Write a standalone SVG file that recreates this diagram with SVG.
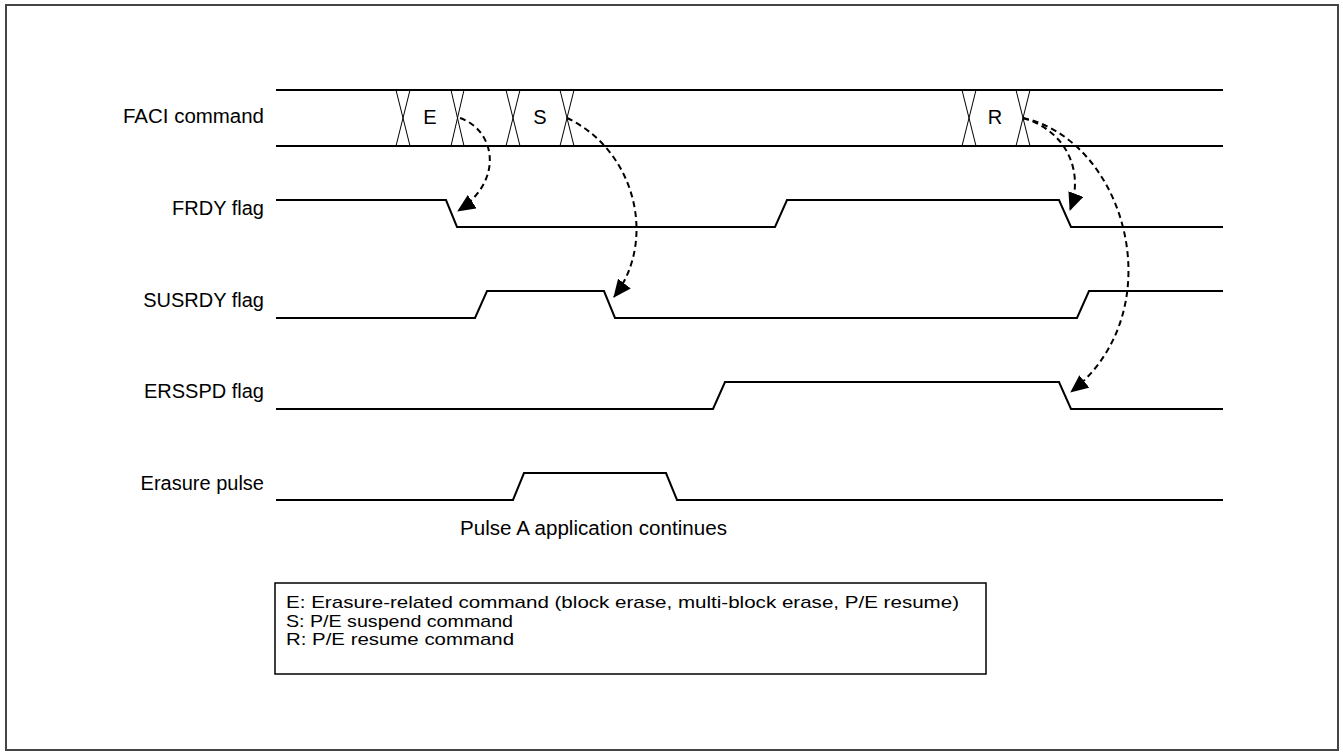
<svg xmlns="http://www.w3.org/2000/svg" width="1343" height="755" viewBox="0 0 1343 755">
<style>
.lbl{font-family:"Liberation Sans",Arial,sans-serif;font-size:20px;fill:#000}
.leg{font-family:"Liberation Sans",Arial,sans-serif;font-size:17px;fill:#000}
.sig{fill:none;stroke:#000;stroke-width:2}
.bus{fill:none;stroke:#000;stroke-width:2}
.x{fill:none;stroke:#000;stroke-width:1}
.dash{fill:none;stroke:#000;stroke-width:2;stroke-dasharray:6,4}
</style>
<defs>
<marker id="ah" markerUnits="userSpaceOnUse" markerWidth="18" markerHeight="16" refX="17" refY="8" orient="auto" viewBox="0 0 18 16">
<path d="M0,0 L18,8 L0,16 z" fill="#000"/>
</marker>
</defs>
<rect x="6" y="5" width="1332" height="745" fill="#fff" stroke="#444" stroke-width="2"/>

<g id="faci">
<text class="lbl" x="264" y="123" text-anchor="end" textLength="141" lengthAdjust="spacingAndGlyphs">FACI command</text>
<line class="bus" x1="276" y1="90" x2="1223" y2="90"/>
<line class="bus" x1="276" y1="146" x2="1223" y2="146"/>
<path class="x" d="M396,90 L410,146 M410,90 L396,146 M451,90 L464,146 M464,90 L451,146 M506,90 L520,146 M520,90 L506,146 M560,90 L574,146 M574,90 L560,146 M962,90 L976,146 M976,90 L962,146 M1016,90 L1030,146 M1030,90 L1016,146"/>
<text class="lbl" x="430" y="124" text-anchor="middle">E</text>
<text class="lbl" x="540" y="124" text-anchor="middle">S</text>
<text class="lbl" x="995" y="124" text-anchor="middle">R</text>
</g>

<g id="frdy">
<text class="lbl" x="264" y="215" text-anchor="end">FRDY flag</text>
<polyline class="sig" points="276,200 446,200 457,227 775,227 787,200 1059,200 1071,227 1223,227"/>
</g>

<g id="susrdy">
<text class="lbl" x="264" y="307" text-anchor="end">SUSRDY flag</text>
<polyline class="sig" points="276,318 475,318 487,291 604,291 615,318 1077,318 1089,291 1223,291"/>
</g>

<g id="ersspd">
<text class="lbl" x="264" y="398" text-anchor="end">ERSSPD flag</text>
<polyline class="sig" points="276,409 713,409 725,382 1059,382 1071,409 1223,409"/>
</g>

<g id="erasure">
<text class="lbl" x="264" y="490" text-anchor="end">Erasure pulse</text>
<polyline class="sig" points="276,500 513,500 524,473 666,473 677,500 1223,500"/>
<text class="lbl" x="460" y="535" textLength="267" lengthAdjust="spacingAndGlyphs">Pulse A application continues</text>
</g>

<g id="connectors">
<path class="dash" d="M460,118 C495,130 505,180 458,211" marker-end="url(#ah)"/>
<path class="dash" d="M567,118 C635,150 658,240 614,297" marker-end="url(#ah)"/>
<path class="dash" d="M1023,118 C1065,130 1085,170 1070,210" marker-end="url(#ah)"/>
<path class="dash" d="M1023,118 C1125,140 1175,310 1071,392" marker-end="url(#ah)"/>
</g>

<g id="legend">
<rect x="275" y="583" width="711" height="91" fill="#fff" stroke="#000" stroke-width="1.5"/>
<text class="leg" x="286" y="608" textLength="673" lengthAdjust="spacingAndGlyphs">E: Erasure-related command (block erase, multi-block erase, P/E resume)</text>
<text class="leg" x="286" y="627" textLength="227" lengthAdjust="spacingAndGlyphs">S: P/E suspend command</text>
<text class="leg" x="286" y="645" textLength="228" lengthAdjust="spacingAndGlyphs">R: P/E resume command</text>
</g>
</svg>
